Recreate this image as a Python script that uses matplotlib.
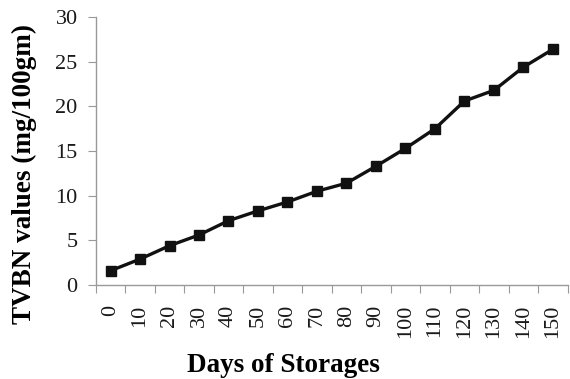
import matplotlib.pyplot as plt
import numpy as np

plt.rcParams['font.family'] = ['Liberation Serif', 'DejaVu Serif']

# 数据
days = [0, 10, 20, 30, 40, 50, 60, 70, 80, 90, 100, 110, 120, 130, 140, 150]
tvbn = [1.6, 2.9, 4.4, 5.6, 7.2, 8.3, 9.3, 10.5, 11.4, 13.3, 15.3, 17.5, 20.6, 21.8, 24.4, 26.4]

x = np.arange(len(days))

fig = plt.figure(figsize=(5.7, 3.79), dpi=100)
ax = fig.add_axes([0.168, 0.248, 0.828, 0.707])

ax.plot(x, tvbn, color='#111111', linewidth=2.4, marker='s', markersize=6.5)

ax.set_xlim(-0.5, len(days) - 0.5)
ax.set_ylim(0, 30)
ax.set_yticks(range(0, 31, 5))

# 类别轴：刻度在类别之间，标签在类别中心
ax.set_xticks(np.arange(-0.5, len(days), 1.0), minor=False)
ax.set_xticklabels([])
ax.set_xticks(x, minor=True)
ax.set_xticklabels([str(d) for d in days], minor=True, rotation=90)
ax.tick_params(axis='x', which='minor', length=0, pad=14, labelsize=16, colors='#1a1a1a')
ax.tick_params(axis='x', which='major', length=6, color='#999999')
ax.tick_params(axis='y', length=6, color='#999999', labelsize=16, labelcolor='#1a1a1a', pad=7)

for s in ['top', 'right']:
    ax.spines[s].set_visible(False)
for s in ['left', 'bottom']:
    ax.spines[s].set_color('#999999')
    ax.spines[s].set_linewidth(1)

ax.set_ylabel('TVBN values (mg/100gm)', fontsize=19.5, fontweight='bold')
ax.set_xlabel('Days of Storages', fontsize=19.5, fontweight='bold')
ax.yaxis.set_label_coords(-0.125, 0.414)
ax.xaxis.set_label_coords(0.398, -0.252)

plt.savefig('out.png', dpi=100)
